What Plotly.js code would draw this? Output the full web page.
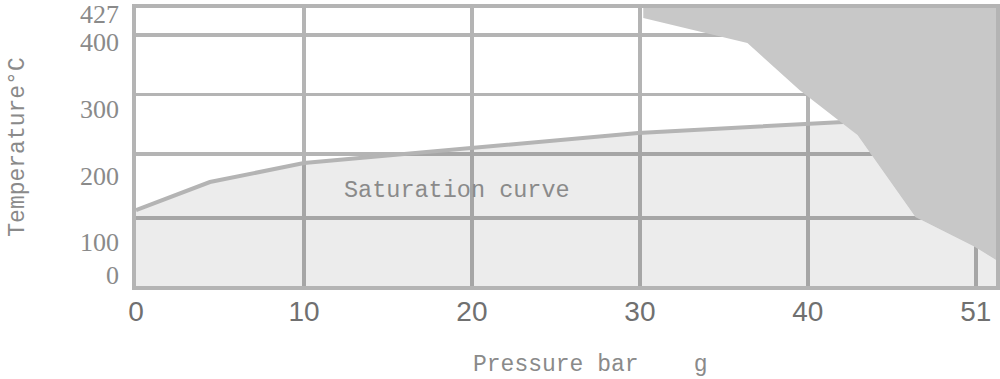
<!DOCTYPE html>
<html><head><meta charset="utf-8">
<script src="https://cdn.plot.ly/plotly-3.0.1.min.js"></script>
<style>html,body{margin:0;padding:0;background:#fff}#chart{width:1000px;height:379px}</style>
</head><body><div id="chart"></div>
<script>
// Axis ticks
const xTickVals = [0, 10, 20, 30, 40, 50];
const xTickText = ['0', '10', '20', '30', '40', '51'];
const yGridVals = [104.4, 202.8, 294.1, 385.5];
const yLabelVals = [16.9, 67.6, 169, 271.9, 374.8, 418];
const yLabelText = ['0', '100', '200', '300', '400', '427'];

// Saturation curve (pressure bar g, temperature °C)
const satPressure = [0, 4.4, 10, 29.9, 42.1];
const satTemp = [116.7, 159.7, 188.9, 235, 251.9];

// Limit region boundary (dark area)
const limitPressure = [30.2, 30.2, 36.4, 39.5, 42.95, 46.4, 49.95, 51.2, 51.2];
const limitTemp = [427, 411.7, 373.3, 301.1, 232, 106, 59.9, 39.9, 427];

const lightX = satPressure.concat(limitPressure.slice(4, 8));
const lightY = satTemp.concat(limitTemp.slice(4, 8));

const GRID = '#b4b4b4';
const traces = [
  {x: lightX, y: lightY, type: 'scatter', mode: 'lines', fill: 'tozeroy',
   fillcolor: 'rgba(0,0,0,0.075)', line: {width: 0}, hoverinfo: 'skip', showlegend: false},
  {x: satPressure, y: satTemp, type: 'scatter', mode: 'lines',
   line: {color: GRID, width: 4}, hoverinfo: 'skip', showlegend: false},
  {x: limitPressure, y: limitTemp, type: 'scatter', mode: 'lines', fill: 'toself',
   fillcolor: '#c8c8c8', line: {width: 0}, hoverinfo: 'skip', showlegend: false},
  {x: [0], y: [0], yaxis: 'y2', type: 'scatter', mode: 'markers',
   marker: {opacity: 0}, hoverinfo: 'skip', showlegend: false}
];

const textFont = {family: 'Liberation Mono, monospace', size: 23, color: '#8a8a8a'};

const layout = {
  width: 1000, height: 379,
  margin: {l: 136, r: 4, t: 8, b: 93},
  paper_bgcolor: '#ffffff', plot_bgcolor: '#ffffff',
  showlegend: false,
  xaxis: {
    range: [0, 51.2], tickmode: 'array', tickvals: xTickVals, ticktext: xTickText,
    showgrid: true, gridcolor: GRID, gridwidth: 3.5,
    showline: true, mirror: true, linecolor: GRID, linewidth: 4,
    zeroline: false, ticks: '', ticklabelstandoff: -3,
    tickfont: {family: 'Liberation Sans, Arial, sans-serif', size: 28, color: '#707070'}
  },
  yaxis: {
    range: [0, 427], tickmode: 'array', tickvals: yGridVals, showticklabels: false,
    showgrid: true, gridcolor: GRID, gridwidth: 3.5,
    showline: true, mirror: true, linecolor: GRID, linewidth: 4,
    zeroline: false, ticks: '',
    title: {text: 'Temperature°C', standoff: 102, font: textFont}
  },
  yaxis2: {
    overlaying: 'y', side: 'left', anchor: 'x',
    range: [0, 427], tickmode: 'array', tickvals: yLabelVals, ticktext: yLabelText,
    showgrid: false, zeroline: false, showline: false, ticks: '', ticklabelstandoff: 16,
    ticklabeloverflow: 'allow',
    tickfont: {family: 'Liberation Serif, Times New Roman, serif', size: 26, color: '#8a8a8a'}
  },
  annotations: [
    {x: 19.1, y: 147, xref: 'x', yref: 'y', text: 'Saturation curve', showarrow: false,
     font: {family: 'Liberation Mono, monospace', size: 23.5, color: '#8a8a8a'}},
    {x: 0.528, y: -0.284, xref: 'paper', yref: 'paper', xanchor: 'center', yanchor: 'middle',
     text: 'Pressure bar\u00a0\u00a0\u00a0\u00a0g', showarrow: false, font: textFont}
  ]
};

Plotly.newPlot('chart', traces, layout, {staticPlot: true, displayModeBar: false});
</script>
</body></html>
